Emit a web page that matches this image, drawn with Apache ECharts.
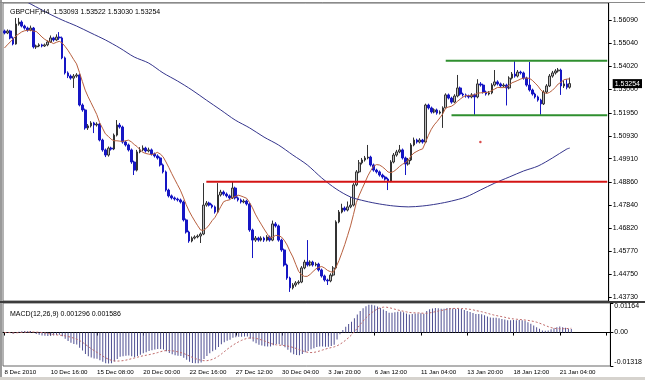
<!DOCTYPE html>
<html><head><meta charset="utf-8">
<script src="https://cdn.jsdelivr.net/npm/echarts@6/dist/echarts.min.js"></script>
<style>html,body{margin:0;padding:0;background:#fff}#c{width:645px;height:380px}</style>
</head><body><div id="c"></div>
<script>
const symbolName = 'GBPCHF,H4';
const slotCount = 210; // visible bar slots (chart shifted, last ~13 empty)
const tickLabels = ['8 Dec 2010','10 Dec 16:00','15 Dec 08:00','20 Dec 00:00','22 Dec 16:00','27 Dec 12:00','30 Dec 04:00','3 Jan 20:00','6 Jan 12:00','11 Jan 04:00','13 Jan 20:00','18 Jan 12:00','21 Jan 04:00'];
const priceTicks = [1.56090,1.55040,1.54020,1.53000,1.51950,1.50930,1.49910,1.48860,1.47840,1.46820,1.45770,1.44750,1.43730];
const macdTicks = [0.01164, 0, -0.01318];
const macdTitle = 'MACD(12,26,9) 0.001296 0.001586';

const open = [
1.5560,1.5551,1.5560,1.5529,1.5502,1.5591,1.5600,1.5582,1.5573,1.5564,
1.5573,1.5489,1.5493,1.5498,1.5493,1.5498,1.5511,1.5529,1.5520,1.5533,
1.5529,1.5440,1.5373,1.5359,1.5350,1.5359,1.5364,1.5230,1.5208,1.5128,
1.5137,1.5150,1.5141,1.5145,1.5074,1.5030,1.5007,1.5038,1.5034,1.5096,
1.5141,1.5132,1.5065,1.5052,1.5030,1.4976,1.4940,1.5021,1.5030,1.5038,
1.5025,1.5030,1.5012,1.5003,1.4994,1.4963,1.4932,1.4851,1.4825,1.4816,
1.4811,1.4807,1.4798,1.4718,1.4664,1.4624,1.4637,1.4642,1.4646,1.4655,
1.4784,1.4793,1.4784,1.4776,1.4753,1.4829,1.4842,1.4833,1.4825,1.4816,
1.4860,1.4816,1.4807,1.4798,1.4802,1.4789,1.4673,1.4628,1.4637,1.4628,
1.4637,1.4628,1.4642,1.4628,1.4700,1.4691,1.4628,1.4584,1.4517,1.4459,
1.4415,1.4428,1.4437,1.4441,1.4504,1.4530,1.4517,1.4530,1.4517,1.4521,
1.4495,1.4468,1.4450,1.4446,1.4472,1.4504,1.4709,1.4753,1.4771,1.4762,
1.4776,1.4784,1.4874,1.4932,1.4972,1.4985,1.4994,1.4998,1.4963,1.4940,
1.4932,1.4918,1.4909,1.4900,1.4891,1.4976,1.5007,1.5021,1.5030,1.4994,
1.4967,1.4985,1.5052,1.5074,1.5065,1.5074,1.5065,1.5230,1.5217,1.5199,
1.5208,1.5194,1.5199,1.5217,1.5275,1.5261,1.5243,1.5270,1.5306,1.5279,
1.5275,1.5270,1.5266,1.5275,1.5266,1.5324,1.5319,1.5288,1.5279,1.5284,
1.5319,1.5333,1.5324,1.5315,1.5319,1.5306,1.5350,1.5368,1.5359,1.5377,
1.5373,1.5350,1.5319,1.5297,1.5279,1.5266,1.5252,1.5235,1.5288,1.5315,
1.5359,1.5373,1.5382,1.5386,1.5315,1.5324,1.53093];
const close = [
1.5551,1.5560,1.5529,1.5502,1.5591,1.5600,1.5582,1.5573,1.5564,1.5573,
1.5489,1.5493,1.5498,1.5493,1.5498,1.5511,1.5529,1.5520,1.5533,1.5529,
1.5440,1.5373,1.5359,1.5350,1.5359,1.5364,1.5230,1.5208,1.5128,1.5137,
1.5150,1.5141,1.5145,1.5074,1.5030,1.5007,1.5038,1.5034,1.5096,1.5141,
1.5132,1.5065,1.5052,1.5030,1.4976,1.4940,1.5021,1.5030,1.5038,1.5025,
1.5030,1.5012,1.5003,1.4994,1.4963,1.4932,1.4851,1.4825,1.4816,1.4811,
1.4807,1.4798,1.4718,1.4664,1.4624,1.4637,1.4642,1.4646,1.4655,1.4784,
1.4793,1.4784,1.4776,1.4753,1.4829,1.4842,1.4833,1.4825,1.4816,1.4860,
1.4816,1.4807,1.4798,1.4802,1.4789,1.4673,1.4628,1.4637,1.4628,1.4637,
1.4628,1.4642,1.4628,1.4700,1.4691,1.4628,1.4584,1.4517,1.4459,1.4415,
1.4428,1.4437,1.4441,1.4504,1.4530,1.4517,1.4530,1.4517,1.4521,1.4495,
1.4468,1.4450,1.4446,1.4472,1.4504,1.4709,1.4753,1.4771,1.4762,1.4776,
1.4784,1.4874,1.4932,1.4972,1.4985,1.4994,1.4998,1.4963,1.4940,1.4932,
1.4918,1.4909,1.4900,1.4891,1.4976,1.5007,1.5021,1.5030,1.4994,1.4967,
1.4985,1.5052,1.5074,1.5065,1.5074,1.5065,1.5230,1.5217,1.5199,1.5208,
1.5194,1.5199,1.5217,1.5275,1.5261,1.5243,1.5270,1.5306,1.5279,1.5275,
1.5270,1.5266,1.5275,1.5266,1.5324,1.5319,1.5288,1.5279,1.5284,1.5319,
1.5333,1.5324,1.5315,1.5319,1.5306,1.5350,1.5368,1.5359,1.5377,1.5373,
1.5350,1.5319,1.5297,1.5279,1.5266,1.5252,1.5235,1.5288,1.5315,1.5359,
1.5373,1.5382,1.5386,1.5315,1.5324,1.5309,1.53254];
const low = [
1.5545,1.5546,1.5523,1.5496,1.5499,1.5584,1.5576,1.5566,1.5557,1.5559,
1.5482,1.5480,1.5488,1.5487,1.5489,1.5492,1.5507,1.5513,1.5516,1.5520,
1.5434,1.5366,1.5350,1.5343,1.5306,1.5352,1.5224,1.5200,1.5120,1.5119,
1.5130,1.5105,1.5134,1.5068,1.5022,1.4998,1.5000,1.5027,1.5029,1.5090,
1.5125,1.5058,1.5045,1.5023,1.4968,1.4918,1.4934,1.5015,1.5024,1.5018,
1.5019,1.5005,1.4996,1.4987,1.4956,1.4925,1.4844,1.4818,1.4809,1.4804,
1.4800,1.4791,1.4711,1.4657,1.4616,1.4618,1.4631,1.4636,1.4615,1.4650,
1.4777,1.4778,1.4769,1.4746,1.4748,1.4822,1.4826,1.4818,1.4809,1.4811,
1.4809,1.4800,1.4791,1.4792,1.4782,1.4665,1.4548,1.4620,1.4621,1.4622,
1.4620,1.4622,1.4621,1.4623,1.4684,1.4621,1.4576,1.4510,1.4451,1.4397,
1.4408,1.4420,1.4430,1.4436,1.4498,1.4510,1.4511,1.4510,1.4511,1.4488,
1.4461,1.4443,1.4428,1.4440,1.4466,1.4498,1.4703,1.4747,1.4755,1.4756,
1.4770,1.4778,1.4868,1.4926,1.4965,1.4978,1.4988,1.4956,1.4933,1.4925,
1.4911,1.4902,1.4893,1.4851,1.4886,1.4970,1.5000,1.5015,1.4987,1.4918,
1.4960,1.4980,1.5046,1.5058,1.5059,1.5058,1.5060,1.5210,1.5192,1.5193,
1.5187,1.5188,1.5128,1.5212,1.5255,1.5236,1.5238,1.5264,1.5272,1.5268,
1.5263,1.5259,1.5260,1.5186,1.5260,1.5312,1.5281,1.5272,1.5273,1.5278,
1.5313,1.5317,1.5308,1.5309,1.5228,1.5300,1.5344,1.5352,1.5353,1.5366,
1.5343,1.5312,1.5290,1.5272,1.5259,1.5245,1.5186,1.5230,1.5282,1.5310,
1.5352,1.5366,1.5375,1.5275,1.5306,1.5300,1.53030];
const high = [
1.5566,1.5567,1.5565,1.5535,1.5618,1.5618,1.5607,1.5588,1.5579,1.5584,
1.5578,1.5499,1.5505,1.5503,1.5504,1.5518,1.5540,1.5534,1.5545,1.5555,
1.5535,1.5446,1.5380,1.5366,1.5368,1.5372,1.5370,1.5237,1.5214,1.5145,
1.5158,1.5155,1.5153,1.5150,1.5080,1.5036,1.5045,1.5044,1.5103,1.5163,
1.5150,1.5138,1.5071,1.5058,1.5036,1.4982,1.5030,1.5042,1.5050,1.5044,
1.5040,1.5036,1.5018,1.5010,1.5000,1.4969,1.4938,1.4857,1.4831,1.4822,
1.4817,1.4813,1.4804,1.4724,1.4670,1.4644,1.4649,1.4653,1.4662,1.4882,
1.4802,1.4799,1.4790,1.4782,1.4882,1.4852,1.4849,1.4840,1.4831,1.4887,
1.4866,1.4822,1.4813,1.4810,1.4808,1.4795,1.4679,1.4646,1.4643,1.4645,
1.4643,1.4650,1.4648,1.4715,1.4708,1.4697,1.4634,1.4590,1.4523,1.4465,
1.4436,1.4445,1.4449,1.4512,1.4540,1.4628,1.4538,1.4536,1.4529,1.4527,
1.4501,1.4474,1.4456,1.4480,1.4512,1.4716,1.4762,1.4790,1.4778,1.4800,
1.4820,1.4882,1.4940,1.4985,1.4994,1.5003,1.5052,1.5004,1.4969,1.4946,
1.4938,1.4924,1.4915,1.4906,1.4984,1.5016,1.5030,1.5052,1.5036,1.5000,
1.4994,1.5060,1.5085,1.5080,1.5082,1.5079,1.5236,1.5236,1.5223,1.5215,
1.5214,1.5206,1.5224,1.5282,1.5281,1.5267,1.5278,1.5364,1.5312,1.5285,
1.5281,1.5276,1.5283,1.5281,1.5345,1.5332,1.5325,1.5294,1.5292,1.5327,
1.5386,1.5340,1.5330,1.5327,1.5325,1.5358,1.5377,1.5426,1.5386,1.5383,
1.5379,1.5356,1.5422,1.5303,1.5285,1.5272,1.5258,1.5296,1.5323,1.5368,
1.5382,1.5390,1.5395,1.5392,1.5340,1.5345,1.53522];

// MA(8) of the first 7 bars (its window starts before the visible chart)
const shortMaHead = [1.5484,1.5498,1.5511,1.5524,1.5538,1.5547,1.5556];
const shortMaPeriod = 8;
// slow moving average, read as [bar index, value]
const longMA = [[0,1.5743],[15,1.5640],[20,1.5609],[25,1.5582],[30,1.5551],[35,1.5520],[40,1.5484],[45,1.5444],[50,1.5417],[55,1.5373],[60,1.5337],[65,1.5297],[70,1.5252],[75,1.5208],[80,1.5163],[85,1.5128],[90,1.5087],[95,1.5052],[100,1.5007],[105,1.4963],[110,1.4905],[115,1.4856],[120,1.4820],[125,1.4802],[130,1.4789],[135,1.4780],[140,1.4776],[145,1.4780],[150,1.4789],[155,1.4802],[160,1.4820],[165,1.4851],[170,1.4882],[175,1.4909],[180,1.4936],[185,1.4958],[190,1.4994],[195,1.5034],[196,1.5038]];
// drawn levels: [start bar, price]
const redLevel = [70, 1.48883];
const greenTop = [153, 1.54276];
const greenBottom = [155, 1.51842];
const dotMark = [165, 1.5065];

const slots = Array.from({length: slotCount}, (_, i) => String(i));
const ohlc = open.map((o, i) => [o, close[i], low[i], high[i]]);
const lastClose = close[close.length - 1];
const lastIdx = slotCount - 1;

const shortMA = close.map((c, i) => {
  if (i < shortMaPeriod - 1) return shortMaHead[i];
  let s = 0; for (let k = i - shortMaPeriod + 1; k <= i; k++) s += close[k];
  return s / shortMaPeriod;
});
// MACD(12,26,9), MetaTrader style: EMA difference, SMA signal
const macd = [], signal = [];
let ef = close[0], es = close[0];
close.forEach((c, i) => {
  ef = ef + (2 / 13) * (c - ef);
  es = es + (2 / 27) * (c - es);
  macd.push(ef - es);
  const from = Math.max(0, i - 8);
  let s = 0; for (let k = from; k <= i; k++) s += macd[k];
  signal.push(s / (i - from + 1));
});

const chart = echarts.init(document.getElementById('c'), null, {renderer: 'canvas'});
const FONT = 'Liberation Sans';
chart.setOption({
  animation: false,
  backgroundColor: '#fff',
  textStyle: {fontFamily: FONT},
  title: [
    {text: symbolName + '  ' + [open[196], high[196], low[196], close[196]].map(v => v.toFixed(5)).join(' '),
     left: 5, top: 4, textStyle: {fontSize: 7, fontWeight: 'normal', color: '#000', fontFamily: FONT}},
    {text: macdTitle, left: 5, top: 306, textStyle: {fontSize: 7, fontWeight: 'normal', color: '#000', fontFamily: FONT}}
  ],
  grid: [
    {left: 3, right: 31, top: 3, height: 298, show: true, borderColor: '#666', borderWidth: 1},
    {left: 3, right: 31, top: 303, height: 63, show: true, borderColor: '#666', borderWidth: 1}
  ],
  xAxis: [
    {type: 'category', gridIndex: 0, data: slots, boundaryGap: true,
     axisLine: {show: false}, axisTick: {show: false}, axisLabel: {show: false}, splitLine: {show: false}},
    {type: 'category', gridIndex: 1, data: slots, boundaryGap: true,
     axisLine: {show: true, lineStyle: {color: '#000'}},
     axisTick: {show: true, alignWithLabel: true, length: 3, interval: (i) => i % 16 === 0, lineStyle: {color: '#000'}},
     axisLabel: {interval: (i) => i % 16 === 0, formatter: (v, i) => tickLabels[i / 16] || '', align: 'left',
                 fontSize: 6.2, color: '#000', margin: 3, fontFamily: FONT},
     splitLine: {show: false}}
  ],
  yAxis: [
    {type: 'value', gridIndex: 0, position: 'right', min: 1.43565, max: 1.56847,
     axisLine: {show: true, lineStyle: {color: '#000'}},
     axisTick: {show: true, length: 3, customValues: priceTicks, lineStyle: {color: '#000'}},
     axisLabel: {customValues: priceTicks.concat([lastClose]), margin: 4, fontSize: 7, color: '#000', fontFamily: FONT,
       formatter: (v) => Math.abs(v - lastClose) < 1e-9 ? '{cur|' + v.toFixed(5) + '}' : v.toFixed(5),
       rich: {cur: {backgroundColor: '#000', color: '#fff', fontSize: 7, padding: [1, 2, 1, 2], fontFamily: FONT}}},
     splitLine: {show: false}},
    {type: 'value', gridIndex: 1, position: 'right', min: -0.01318, max: 0.01164,
     axisLine: {show: true, lineStyle: {color: '#000'}},
     axisTick: {show: true, length: 3, customValues: macdTicks, lineStyle: {color: '#000'}},
     axisLabel: {customValues: macdTicks, margin: 4, fontSize: 7, color: '#000', fontFamily: FONT,
       formatter: (v) => v === 0 ? '0.00' : (v > 0 ? '{top|' + v.toFixed(5) + '}' : '{bot|' + v.toFixed(5) + '}'),
       rich: {top: {fontSize: 7, color: '#000', padding: [7, 0, 0, 0], fontFamily: FONT},
              bot: {fontSize: 7, color: '#000', padding: [0, 0, 7, 0], fontFamily: FONT}}},
     splitLine: {show: false}}
  ],
  series: [
    {type: 'candlestick', xAxisIndex: 0, yAxisIndex: 0, data: ohlc, barWidth: 2.2,
     itemStyle: {color: '#bdbdbd', borderColor: '#333333', color0: '#1616c4', borderColor0: '#1616c4', borderWidth: 1}},
    {type: 'line', xAxisIndex: 0, yAxisIndex: 0, data: shortMA, symbol: 'none',
     lineStyle: {color: '#b8603f', width: 1}},
    {type: 'line', xAxisIndex: 0, yAxisIndex: 0, data: longMA, symbol: 'none', smooth: 0.3,
     lineStyle: {color: '#35358c', width: 1}},
    {type: 'line', xAxisIndex: 0, yAxisIndex: 0, data: [[redLevel[0], redLevel[1]], [lastIdx, redLevel[1]]], symbol: 'none',
     lineStyle: {color: '#d41414', width: 2}},
    {type: 'line', xAxisIndex: 0, yAxisIndex: 0, data: [[greenTop[0], greenTop[1]], [lastIdx, greenTop[1]]], symbol: 'none',
     lineStyle: {color: '#2f8f2f', width: 2}},
    {type: 'line', xAxisIndex: 0, yAxisIndex: 0, data: [[greenBottom[0], greenBottom[1]], [lastIdx, greenBottom[1]]], symbol: 'none',
     lineStyle: {color: '#2f8f2f', width: 2}},
    {type: 'scatter', xAxisIndex: 0, yAxisIndex: 0, data: [dotMark], symbolSize: 2.5,
     itemStyle: {color: '#d02020'}},
    {type: 'bar', xAxisIndex: 1, yAxisIndex: 1, data: macd, barWidth: 1,
     itemStyle: {color: '#4f4f92'}},
    {type: 'line', xAxisIndex: 1, yAxisIndex: 1, data: signal, symbol: 'none',
     lineStyle: {color: '#c06a6a', width: 1, type: [2, 2]}}
  ],
  graphic: [
    {type: 'rect', shape: {x: 0, y: 0, width: 2, height: 380}, style: {fill: '#9a9a9a'}, z: 100},
    {type: 'line', shape: {x1: 0, y1: 2.5, x2: 645, y2: 2.5}, style: {stroke: '#8a8a8a', lineWidth: 1}, z: 100},
    {type: 'line', shape: {x1: 0, y1: 302, x2: 645, y2: 302}, style: {stroke: '#3c3c3c', lineWidth: 2}, z: 100},
    {type: 'rect', shape: {x: 0, y: 377, width: 645, height: 3}, style: {fill: '#d6d3ce'}, z: 100}
  ]
});
</script></body></html>
